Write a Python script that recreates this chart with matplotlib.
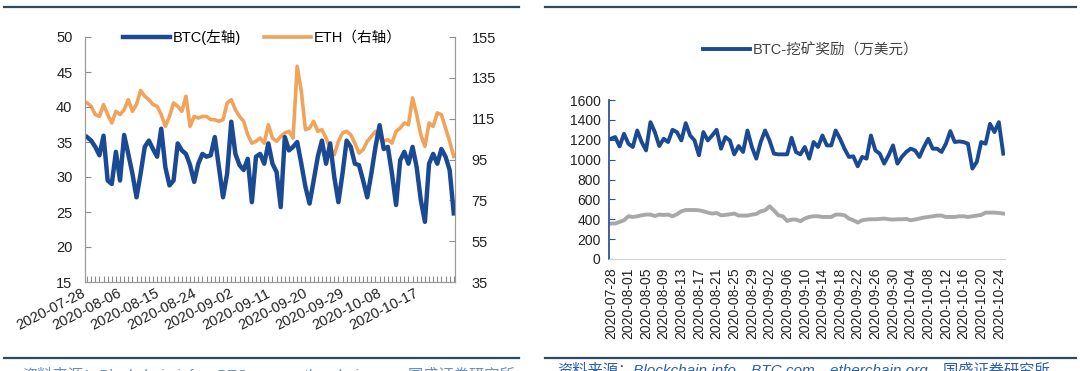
import matplotlib
matplotlib.use('Agg')
import matplotlib.pyplot as plt
from matplotlib.lines import Line2D
import pandas as pd

# ---- data ----
dates = pd.date_range('2020-07-28', periods=90).strftime('%Y-%m-%d').tolist()

btc_fee = [35.7, 35.2, 34.3, 33.1, 35.9, 29.5, 29.0, 33.6, 29.5, 36.0,
           33.3, 30.5, 27.1, 30.5, 34.3, 35.2, 34.0, 32.9, 36.9, 31.4,
           28.8, 29.5, 34.8, 33.8, 33.3, 31.7, 29.3, 31.9, 33.3, 32.9,
           33.1, 35.7, 31.4, 27.1, 30.5, 37.9, 33.3, 31.7, 31.0, 32.6,
           26.4, 32.9, 33.3, 31.9, 34.8, 31.9, 30.7, 25.7, 35.7, 33.8,
           34.3, 35.0, 31.9, 28.6, 26.2, 29.5, 32.9, 35.2, 31.9, 34.8,
           30.0, 26.4, 30.5, 35.2, 34.3, 31.9, 31.7, 29.5, 27.1, 30.5,
           34.3, 37.4, 34.0, 34.3, 30.5, 26.0, 32.4, 33.6, 31.9, 34.3,
           31.4, 26.7, 23.6, 31.9, 33.3, 31.9, 34.0, 32.9, 31.0, 24.8]

eth_fee = [122.7, 121.1, 117.0, 116.1, 121.9, 117.0, 112.9, 118.6, 117.0, 119.4,
           124.3, 118.6, 122.0, 128.8, 126.0, 124.3, 121.9, 121.1, 117.0, 111.2,
           116.1, 122.7, 121.1, 118.6, 126.0, 111.2, 116.1, 115.3, 116.1, 116.1,
           114.5, 114.5, 113.7, 114.5, 122.7, 124.3, 119.4, 116.1, 113.7, 107.1,
           103.0, 103.9, 105.5, 103.0, 112.0, 105.5, 103.9, 106.3, 108.0, 108.8,
           105.5, 140.7, 128.4, 109.6, 110.4, 113.7, 108.8, 109.6, 105.5, 100.6,
           97.3, 103.9, 108.0, 108.8, 107.1, 103.0, 98.1, 99.8, 103.9, 106.3,
           108.8, 105.5, 103.9, 104.7, 103.0, 108.8, 110.4, 112.9, 112.0, 125.2,
           117.0, 107.1, 101.4, 112.9, 111.2, 117.8, 117.0, 110.4, 103.9, 96.5]

mining_reward = [1210, 1227, 1133, 1260, 1160, 1127, 1293, 1177, 1093, 1377,
                 1277, 1137, 1210, 1177, 1300, 1277, 1193, 1367, 1243, 1193,
                 1043, 1277, 1193, 1243, 1300, 1110, 1227, 1193, 1053, 1137,
                 1077, 1293, 1127, 1010, 1177, 1293, 1193, 1060, 1053, 1053,
                 1053, 1220, 1077, 1053, 1127, 1010, 1177, 1127, 1243, 1143,
                 1143, 1293, 1210, 1110, 1027, 1033, 933, 1027, 1010, 1243,
                 1093, 1060, 960, 1043, 1143, 960, 1027, 1077, 1110, 1093,
                 1027, 1127, 1210, 1110, 1110, 1077, 1160, 1287, 1177, 1183,
                 1177, 1160, 910, 977, 1177, 1160, 1360, 1277, 1377, 1060]

gray_series = [357, 357, 373, 390, 430, 423, 430, 440, 447, 447,
               433, 447, 443, 447, 430, 450, 480, 493, 493, 493,
               490, 480, 467, 457, 463, 440, 443, 450, 457, 437,
               437, 437, 447, 453, 480, 490, 530, 490, 440, 430,
               383, 397, 397, 380, 407, 423, 430, 430, 423, 423,
               423, 447, 447, 440, 407, 390, 367, 390, 397, 400,
               400, 403, 407, 400, 397, 400, 400, 403, 390, 397,
               407, 417, 423, 430, 437, 437, 423, 423, 423, 430,
               430, 423, 430, 437, 443, 467, 467, 467, 463, 457]

left_label_step = 9
right_label_step = 4

BLUE = '#1B4A94'
ORANGE = '#F0A35A'
GRAY = '#A8A8A8'
RULE = '#2E4A62'

plt.rcParams['font.family'] = ['Liberation Sans', 'Noto Sans CJK SC', 'DejaVu Sans']

fig = plt.figure(figsize=(10.8, 3.71), dpi=100)
x = list(range(len(dates)))

# ---- left panel: BTC / ETH ----
ax = fig.add_axes([85 / 1080, 1 - 282 / 371, 370 / 1080, 245 / 371])
ax2 = ax.twinx()
l_eth, = ax2.plot(x, eth_fee, color=ORANGE, lw=2.6, label='ETH（右轴）')
l_btc, = ax.plot(x, btc_fee, color=BLUE, lw=3.2, label='BTC(左轴)')
ax.set_zorder(ax2.get_zorder() + 1)
ax.patch.set_visible(False)

ax.set_ylim(15, 50)
ax.set_yticks(range(15, 51, 5))
ax2.set_ylim(35, 155)
ax2.set_yticks(range(35, 156, 20))
ax.set_xlim(-0.5, 89.3)
ax.set_xticks(x)
ax.set_xticklabels([d if i % left_label_step == 0 else '' for i, d in enumerate(dates)],
                   rotation=27, ha='right', fontsize=10, color='#222222')
for a in (ax, ax2):
    a.tick_params(axis='both', direction='in', length=4, color='#8C8C8C',
                  labelsize=10.5, labelcolor='#222222')
    for s in a.spines.values():
        s.set_color('#9A9A9A')
    a.spines['top'].set_visible(False)
ax.tick_params(axis='y', pad=9)
ax2.tick_params(axis='y', pad=12)
ax.tick_params(axis='x', pad=3)

ax.legend(handles=[l_btc, l_eth], loc='center', bbox_to_anchor=(0.48, 1.0),
          ncol=2, frameon=False, fontsize=10.5, handlelength=3.2,
          handletextpad=0.2, columnspacing=1.6)

# ---- right panel: mining reward ----
axr = fig.add_axes([609 / 1080, 1 - 259 / 371, 396 / 1080, 159 / 371])
l_rew, = axr.plot(x, mining_reward, color=BLUE, lw=2.8, label='BTC-挖矿奖励（万美元）')
axr.plot(x, gray_series, color=GRAY, lw=2.8)
axr.set_ylim(0, 1600)
axr.set_yticks(range(0, 1601, 200))
axr.set_xlim(-0.4, 89.4)
tick_idx = list(range(0, len(dates), right_label_step))
axr.set_xticks(tick_idx)
axr.set_xticklabels([dates[i] for i in tick_idx], rotation=90, fontsize=10, color='#222222')
axr.tick_params(axis='x', length=0, pad=6)
axr.tick_params(axis='y', direction='in', length=4, color='#2F5496',
                labelsize=10, labelcolor='#222222', pad=6)
for s in ('top', 'right'):
    axr.spines[s].set_visible(False)
axr.spines['left'].set_color('#2F5496')
axr.spines['left'].set_linewidth(1.3)
axr.spines['bottom'].set_color('#D0D0D0')
axr.legend(handles=[l_rew], loc='center', bbox_to_anchor=(0.51, 1.0 + 50 / 159),
           frameon=False, fontsize=10.5, handlelength=3.2, handletextpad=0.2,
           labelcolor='#444444')

# ---- page decoration: rules and cut-off source notes ----
for x0, x1 in ((4, 519), (545, 1076)):
    for yy in (7, 358):
        fig.add_artist(Line2D([x0 / 1080, x1 / 1080], [1 - yy / 371, 1 - yy / 371],
                              color=RULE, lw=1.6))

source = '资料来源：Blockchain.info、BTC.com、etherchain.org、国盛证券研究所'
fig.text(557 / 1080, 1 - 362 / 371, source, fontsize=11, style='italic',
         color='#2F5FA8', va='top', ha='left')
fig.text(22 / 1080, 1 - 367 / 371, source, fontsize=11, style='italic',
         color='#6F8FB8', va='top', ha='left')

fig.savefig('out.png', dpi=100)
